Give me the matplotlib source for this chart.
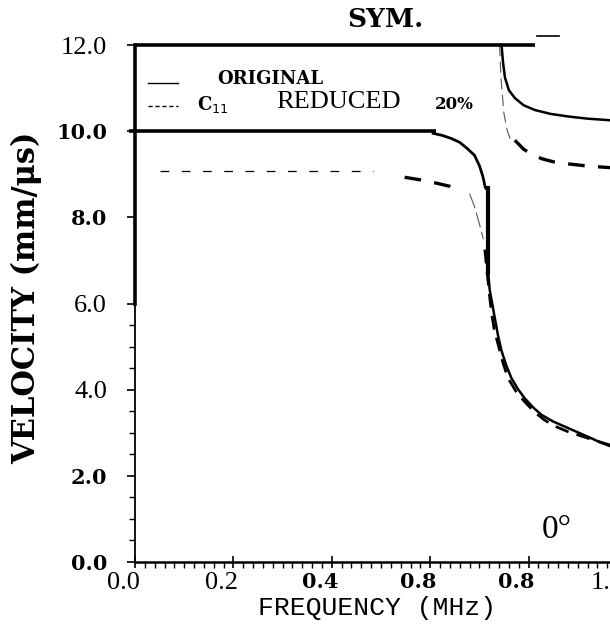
import matplotlib
matplotlib.use("Agg")
import matplotlib.pyplot as plt
from matplotlib.ticker import FixedLocator, MultipleLocator
from matplotlib.transforms import ScaledTranslation

# --- data ---
# ORIGINAL (solid), lower mode, bending part before the jump
orig_low_f = [0.606, 0.625, 0.643, 0.660, 0.675, 0.690, 0.700, 0.707, 0.712, 0.718]
orig_low_v = [9.95, 9.90, 9.83, 9.74, 9.60, 9.44, 9.20, 8.95, 8.69, 8.62]
# ORIGINAL, vertical jump
orig_jump_f = [0.718, 0.718]
orig_jump_v = [8.69, 6.70]
# ORIGINAL, lower mode after the jump
orig_tail_f = [0.718, 0.721, 0.726, 0.731, 0.738, 0.745, 0.755, 0.765, 0.778,
               0.792, 0.810, 0.827, 0.850, 0.874, 0.900, 0.922, 0.945, 0.970]
orig_tail_v = [6.70, 6.31, 6.00, 5.68, 5.25, 4.90, 4.55, 4.27, 4.02,
               3.80, 3.58, 3.41, 3.26, 3.14, 3.01, 2.90, 2.78, 2.67]
# ORIGINAL, upper mode
orig_up_f = [0.745, 0.748, 0.752, 0.760, 0.772, 0.790, 0.813, 0.845, 0.881, 0.920, 0.970]
orig_up_v = [12.0, 11.60, 11.24, 10.95, 10.77, 10.60, 10.49, 10.40, 10.34, 10.29, 10.25]

# C11 REDUCED 20% (dashed)
red_flat_f = [0.051, 0.484]
red_flat_v = [9.08, 9.08]
red_knee_f = [0.548, 0.580, 0.610, 0.640, 0.663]
red_knee_v = [8.93, 8.87, 8.80, 8.72, 8.61]
red_drop_f = [0.680, 0.690, 0.700, 0.708]
red_drop_v = [8.55, 8.25, 7.85, 7.49]
red_tail_f = [0.711, 0.716, 0.720, 0.724, 0.730, 0.738, 0.748, 0.758, 0.775,
              0.792, 0.812, 0.833, 0.856, 0.881, 0.908, 0.935, 0.970]
red_tail_v = [7.25, 6.69, 6.25, 5.84, 5.40, 5.05, 4.62, 4.27, 3.95,
              3.72, 3.48, 3.29, 3.14, 3.02, 2.92, 2.82, 2.70]
red_up_thin_f = [0.741, 0.744, 0.750, 0.757, 0.765]
red_up_thin_v = [12.0, 11.2, 10.4, 10.0, 9.75]
red_up_f = [0.772, 0.790, 0.810, 0.827, 0.850, 0.881, 0.920, 0.970]
red_up_v = [9.79, 9.58, 9.44, 9.36, 9.29, 9.24, 9.19, 9.15]

# legend box edges (velocity level, start and end frequency)
box_top = (12.0, 0.0, 0.812)
box_bottom = (10.0, -0.013, 0.612)

x_ticks = [0.0, 0.2, 0.4, 0.6, 0.8, 1.0]
x_labels = ["0.0", "0.2", "0.4", "0.8", "0.8", "1.0"]
x_bold = [False, False, True, True, True, False]
x_shift_px = [-12, -12, -12, -12, -12, -20]
y_ticks = [0, 2, 4, 6, 8, 10, 12]
y_labels = ["0.0", "2.0", "4.0", "6.0", "8.0", "10.0", "12.0"]
y_bold = [True, True, False, False, True, True, False]

SERIF = "Liberation Serif"
SLAB = "DejaVu Serif"

fig = plt.figure(figsize=(6.1, 6.31), dpi=100)
ax = fig.add_axes([135 / 610, 69 / 631, 492 / 610, 517 / 631])
ax.set_xlim(0, 1.0)
ax.set_ylim(0, 12)

k = "black"
# solid curves
ax.plot(orig_low_f, orig_low_v, color=k, lw=2.0)
ax.plot(orig_jump_f, orig_jump_v, color=k, lw=3.0)
ax.plot(orig_tail_f, orig_tail_v, color=k, lw=1.8)
ax.plot(orig_up_f, orig_up_v, color=k, lw=1.8, clip_on=False)

# dashed curves
ax.plot(red_flat_f, red_flat_v, color=k, lw=0.9, dashes=(7, 10))
ax.plot(red_knee_f, red_knee_v, color=k, lw=2.4, dashes=(5, 4))
ax.plot(red_drop_f, red_drop_v, color="#555555", lw=0.8, dashes=(14, 4))
ax.plot(red_tail_f, red_tail_v, color=k, lw=2.0, dashes=(5, 3))
ax.plot(red_up_thin_f, red_up_thin_v, color="#555555", lw=0.8, dashes=(10, 5))
ax.plot(red_up_f, red_up_v, color=k, lw=2.4, dashes=(5, 4))

# box edges
for lvl, f0, f1 in (box_top, box_bottom):
    ax.plot([f0, f1], [lvl, lvl], color=k, lw=2.6, clip_on=False,
            solid_capstyle="butt")
ax.plot([0.818, 0.862], [12.2, 12.2], color=k, lw=1.2, clip_on=False)

# spines
for s in ("top", "right"):
    ax.spines[s].set_visible(False)
ax.spines["left"].set_bounds(0, 12)
ax.spines["left"].set_linewidth(1.3)
ax.spines["bottom"].set_linewidth(1.8)
ax.plot([0, 0], [6.0, 12.0], color=k, lw=2.6, clip_on=False)

# ticks
ax.xaxis.set_major_locator(FixedLocator(x_ticks))
ax.xaxis.set_minor_locator(MultipleLocator(0.02))
ax.yaxis.set_major_locator(FixedLocator(y_ticks))
ax.yaxis.set_minor_locator(FixedLocator([0.5 * i for i in range(1, 12) if i % 4]))
ax.tick_params(axis="x", which="major", direction="inout", length=9, width=1.2, pad=3)
ax.tick_params(axis="x", which="minor", direction="out", length=4, width=1.0)
ax.tick_params(axis="y", which="major", direction="out", length=6, width=1.2, pad=14)
ax.tick_params(axis="y", which="minor", direction="out", length=4, width=1.0)
ax.set_xticklabels(x_labels)
ax.set_yticklabels(y_labels)
for lab, b, dx in zip(ax.get_xticklabels(), x_bold, x_shift_px):
    lab.set_transform(lab.get_transform()
                      + ScaledTranslation(dx / 100, 0, fig.dpi_scale_trans))
    if b:
        lab.set_fontfamily(SLAB); lab.set_fontweight("bold"); lab.set_fontsize(15)
    else:
        lab.set_fontfamily(SERIF); lab.set_fontsize(19)
for lab, b in zip(ax.get_yticklabels(), y_bold):
    if b:
        lab.set_fontfamily(SLAB); lab.set_fontweight("bold"); lab.set_fontsize(15)
    else:
        lab.set_fontfamily(SERIF); lab.set_fontsize(19)

# legend drawn by hand, as in the original figure
ax.plot([0.026, 0.087], [11.12, 11.12], color=k, lw=1.0)
ax.plot([0.026, 0.087], [10.58, 10.58], color=k, lw=1.0, dashes=(3, 2))
ax.text(0.276, 11.21, "ORIGINAL", family=SLAB, weight="bold", fontsize=13,
        ha="center", va="center")
ax.text(0.126, 10.63, "C$_{11}$", family=SLAB, weight="bold", fontsize=13,
        ha="left", va="center")
ax.text(0.287, 10.68, "REDUCED", family=SERIF, fontsize=19, ha="left", va="center")
ax.text(0.61, 10.63, "20%", family=SLAB, weight="bold", fontsize=12,
        ha="left", va="center")

ax.text(0.508, 12.6, "SYM.", family=SLAB, weight="bold", fontsize=19,
        ha="center", va="center")
ax.text(0.858, 0.74, "0°", family=SERIF, fontsize=24, ha="center", va="center")

fig.text(27 / 610, 1 - 298 / 631, "VELOCITY (mm/μs)", family=SLAB, weight="bold",
         fontsize=22, rotation=90, ha="center", va="center")
fig.text(377 / 610, 1 - 608 / 631, "FREQUENCY (MHz)", family="Liberation Mono",
         fontsize=19, ha="center", va="center")

fig.savefig("out.png", dpi=100)
